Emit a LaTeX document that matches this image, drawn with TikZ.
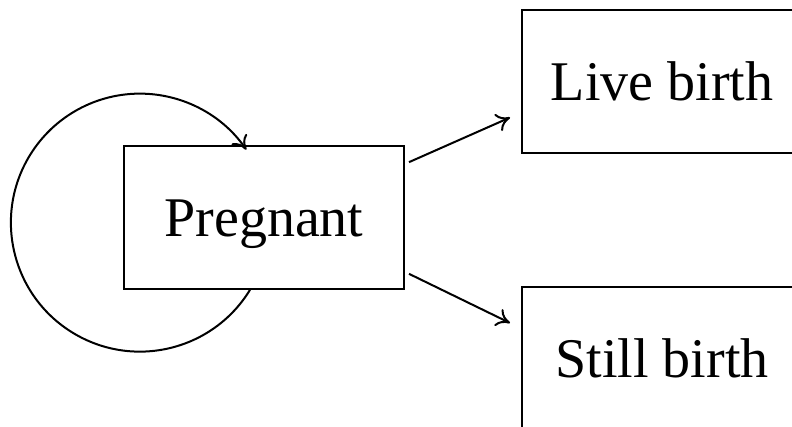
\documentclass[tikz,border=0pt]{standalone}
\usepackage{fontspec}
\setmainfont{Liberation Serif}
\usetikzlibrary{calc}
\usetikzlibrary{arrows.meta, positioning}
\tikzset{>={To[length=10pt,width=14pt]}}
\tikzset{statebox/.style={rectangle, draw, line width=1.5pt, minimum width=210pt, minimum height=107pt, inner sep=0pt, text height=28.5pt, text depth=0pt, font=\fontsize{42}{50}\selectfont}}

\begin{document}
\begin{tikzpicture}[x=0.75pt, y=0.75pt]
      \clip (0, 0) rectangle (792, 427);
      \useasboundingbox (0, 0) rectangle (792, 427);

      \node (preg) at (264, 209.5) [statebox] {Pregnant};
      \node (live) at (662, 345.5) [statebox] {Live birth};
      \node (still) at (662, 68.5) [statebox] {Still birth};

      \draw [->, line width=1.5pt] ([shift={(4, -17)}]preg.north east) -- ([shift={(-11, -36)}]live.west);
      \draw [->, line width=1.5pt] ([shift={(4, 16)}]preg.south east) -- ([shift={(-11, 35.5)}]still.west);

      % stays pregnant
      \draw [->, line width=1.5pt] ([shift={(127, 0)}]preg.south west) arc [start angle=-31.4, end angle=-325.6, radius=129];
    \end{tikzpicture}
\end{document}
